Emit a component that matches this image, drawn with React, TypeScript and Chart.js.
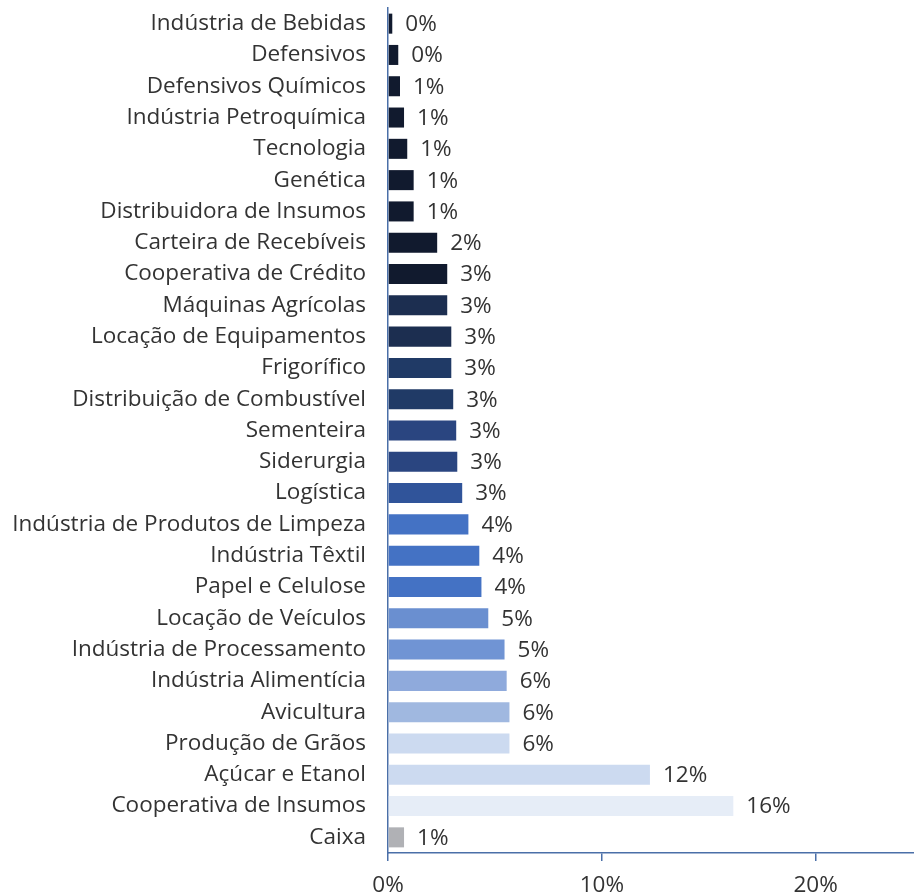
import React, { useEffect, useRef } from "react";
import { Chart, registerables } from "chart.js";

Chart.register(...registerables);

const categories = [
  "Indústria de Bebidas",
  "Defensivos",
  "Defensivos Químicos",
  "Indústria Petroquímica",
  "Tecnologia",
  "Genética",
  "Distribuidora de Insumos",
  "Carteira de Recebíveis",
  "Cooperativa de Crédito",
  "Máquinas Agrícolas",
  "Locação de Equipamentos",
  "Frigorífico",
  "Distribuição de Combustível",
  "Sementeira",
  "Siderurgia",
  "Logística",
  "Indústria de Produtos de Limpeza",
  "Indústria Têxtil",
  "Papel e Celulose",
  "Locação de Veículos",
  "Indústria de Processamento",
  "Indústria Alimentícia",
  "Avicultura",
  "Produção de Grãos",
  "Açúcar e Etanol",
  "Cooperativa de Insumos",
  "Caixa",
];

const values = [
  0.2, 0.48, 0.56, 0.75, 0.9, 1.2, 1.2, 2.3, 2.77, 2.77, 2.96, 2.96, 3.05, 3.19,
  3.24, 3.47, 3.76, 4.27, 4.37, 4.69, 5.45, 5.55, 5.68, 5.68, 12.25, 16.15, 0.75,
];

const barColors = [
  "#111a2e", "#111a2e", "#111a2e", "#111a2e", "#111a2e", "#111a2e", "#111a2e",
  "#111a2e", "#111a2e", "#1c2e50", "#1c2e50", "#203a66", "#203a66", "#2a4580",
  "#2a4580", "#30549a", "#4472c4", "#4472c4", "#4472c4", "#6a8fd0", "#7094d4",
  "#8faadc", "#a0b8e0", "#ccdaf0", "#ccdaf0", "#e6edf7", "#b0b1b5",
];

const xTicks = [0, 10, 20];

const FONT = "'Open Sans', Roboto, sans-serif";
const TEXT = "#333333";
const AXIS = "#4a6fa8";

const valueLabels = {
  id: "valueLabels",
  afterDatasetsDraw(chart: any) {
    const ctx = chart.ctx;
    const meta = chart.getDatasetMeta(0);
    ctx.save();
    ctx.font = `22.5px ${FONT}`;
    ctx.fillStyle = TEXT;
    ctx.textAlign = "left";
    ctx.textBaseline = "middle";
    meta.data.forEach((bar: any, i: number) => {
      const v = chart.data.datasets[0].data[i] as number;
      ctx.fillText(`${Math.round(v)}%`, bar.x + 13, bar.y + 1);
    });
    ctx.restore();
  },
};

export default function App() {
  const ref = useRef<HTMLCanvasElement>(null);
  useEffect(() => {
    if (!ref.current) return;
    const chart = new Chart(ref.current, {
      type: "bar",
      data: {
        labels: categories,
        datasets: [
          {
            data: values,
            backgroundColor: barColors,
            barPercentage: 0.64,
            categoryPercentage: 1,
          },
        ],
      },
      options: {
        indexAxis: "y",
        animation: false,
        responsive: true,
        maintainAspectRatio: false,
        layout: { padding: { top: 8, right: 0, left: 0, bottom: 0 } },
        plugins: { legend: { display: false }, tooltip: { enabled: false } },
        scales: {
          x: {
            min: 0,
            max: 24.6,
            afterBuildTicks(scale: any) {
              scale.ticks = xTicks.map((v) => ({ value: v }));
            },
            afterFit(scale: any) {
              scale.height = 42;
              scale.paddingLeft = 0;
              scale.paddingRight = 0;
            },
            ticks: {
              callback: (v: any) => `${v}%`,
              color: TEXT,
              font: { family: FONT, size: 22.5 },
              padding: 11,
              maxRotation: 0,
            },
            grid: {
              drawOnChartArea: false,
              drawTicks: true,
              tickLength: 8,
              color: AXIS,
              lineWidth: 1.5,
            },
            border: { color: AXIS, width: 1.5 },
          },
          y: {
            afterFit(scale: any) {
              scale.width = 388;
              scale.paddingTop = 0;
              scale.paddingBottom = 0;
            },
            ticks: {
              color: TEXT,
              font: { family: FONT, size: 22.5 },
              padding: 22,
              autoSkip: false,
            },
            grid: { display: false, drawTicks: false },
            border: { color: AXIS, width: 1.5 },
          },
        },
      },
      plugins: [valueLabels],
    });
    return () => chart.destroy();
  }, []);
  return (
    <div style={{ position: "fixed", left: 0, top: 0, width: 914, height: 895, background: "#fff" }}>
      <canvas ref={ref} />
    </div>
  );
}
